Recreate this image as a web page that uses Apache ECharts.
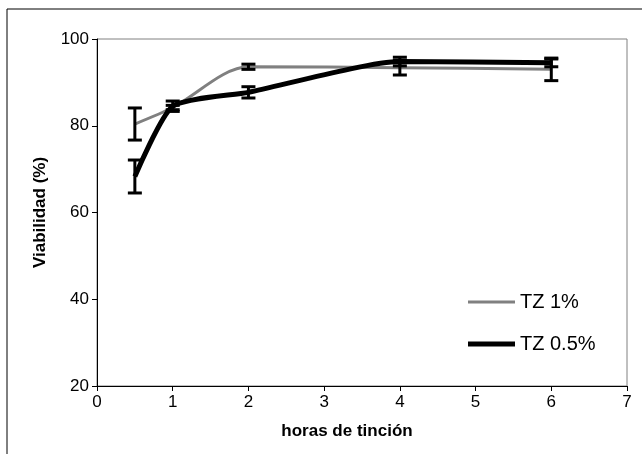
<!DOCTYPE html>
<html>
<head>
<meta charset="utf-8">
<script src="https://cdn.jsdelivr.net/npm/echarts@6/dist/echarts.min.js"></script>
<style>
  html, body { margin: 0; padding: 0; background: #fff; }
  #chart { width: 642px; height: 454px; }
</style>
</head>
<body>
<div id="chart"></div>
<script>
const hours = [0.5, 1, 2, 4, 6];
const tz1 = [80.4, 84.2, 93.6, 93.4, 93.0];
const tz1Err = [3.7, 0.5, 0.6, 1.7, 2.6];
const tz05 = [68.3, 84.5, 87.7, 94.8, 94.5];
const tz05Err = [3.8, 1.2, 1.3, 1.0, 0.9];
const xTicks = [0, 1, 2, 3, 4, 5, 6, 7];
const yTicks = [20, 40, 60, 80, 100];

const font = 'Liberation Sans, Arial, sans-serif';

function pairs(xs, ys) {
  return xs.map((x, i) => [x, ys[i]]);
}

function errRows(xs, ys, es) {
  return xs.map((x, i) => [x, ys[i] - es[i], ys[i] + es[i]]);
}

function renderErr(params, api) {
  const top = api.coord([api.value(0), api.value(2)]);
  const bot = api.coord([api.value(0), api.value(1)]);
  const cap = 7;
  const style = { stroke: '#000', lineWidth: 3 };
  return {
    type: 'group',
    children: [
      { type: 'line', shape: { x1: top[0], y1: top[1], x2: bot[0], y2: bot[1] }, style },
      { type: 'line', shape: { x1: top[0] - cap, y1: top[1], x2: top[0] + cap, y2: top[1] }, style },
      { type: 'line', shape: { x1: bot[0] - cap, y1: bot[1], x2: bot[0] + cap, y2: bot[1] }, style },
    ],
  };
}

function legendFor(name, top, thick) {
  return {
    data: [{ name, icon: 'rect' }],
    left: 463,
    top,
    itemWidth: 47,
    itemHeight: thick,
    itemGap: 4,
    textStyle: { fontFamily: font, fontSize: 20, color: '#000' },
  };
}

const chart = echarts.init(document.getElementById('chart'));

chart.setOption({
  animation: false,
  textStyle: { fontFamily: font },
  graphic: [
    {
      type: 'rect',
      shape: { x: 7, y: 9, width: 660, height: 470 },
      style: { fill: 'none', stroke: '#000', lineWidth: 1 },
      silent: true,
    },
  ],
  grid: {
    left: 97,
    right: 15,
    top: 39,
    bottom: 68,
    show: true,
    borderColor: '#808080',
    borderWidth: 1,
  },
  legend: [legendFor('TZ 1%', 287, 3), legendFor('TZ 0.5%', 329, 5)],
  xAxis: {
    type: 'value',
    min: 0,
    max: 7,
    interval: 1,
    name: 'horas de tinción',
    nameLocation: 'middle',
    nameGap: 37,
    nameTextStyle: { fontFamily: font, fontWeight: 'bold', fontSize: 17, color: '#000', padding: [0, 30, 0, 0] },
    axisLine: { lineStyle: { color: '#000', width: 1 } },
    axisTick: { show: true, length: 5, lineStyle: { color: '#000' } },
    axisLabel: {
      fontSize: 17,
      color: '#000',
      margin: 8,
      formatter: (v) => (xTicks.includes(v) ? String(v) : ''),
    },
    splitLine: { show: false },
  },
  yAxis: {
    type: 'value',
    min: 20,
    max: 100,
    interval: 20,
    name: 'Viabilidad (%)',
    nameLocation: 'middle',
    nameGap: 48,
    nameTextStyle: { fontFamily: font, fontWeight: 'bold', fontSize: 17, color: '#000' },
    axisLine: { show: true, lineStyle: { color: '#000', width: 1 } },
    axisTick: { show: true, length: 5, lineStyle: { color: '#000' } },
    axisLabel: {
      fontSize: 17,
      color: '#000',
      margin: 8,
      formatter: (v) => (yTicks.includes(v) ? String(v) : ''),
    },
    splitLine: { show: false },
  },
  series: [
    {
      name: 'TZ 1%',
      type: 'line',
      smooth: 0.3,
      symbol: 'none',
      color: '#808080',
      lineStyle: { color: '#808080', width: 3 },
      data: pairs(hours, tz1),
      z: 2,
    },
    {
      name: 'TZ 0.5%',
      type: 'line',
      smooth: 0.2,
      symbol: 'none',
      color: '#000',
      lineStyle: { color: '#000', width: 5 },
      data: pairs(hours, tz05),
      z: 3,
    },
    {
      type: 'custom',
      renderItem: renderErr,
      encode: { x: 0, y: [1, 2] },
      data: errRows(hours, tz1, tz1Err),
      z: 4,
    },
    {
      type: 'custom',
      renderItem: renderErr,
      encode: { x: 0, y: [1, 2] },
      data: errRows(hours, tz05, tz05Err),
      z: 4,
    },
  ],
});
</script>
</body>
</html>
